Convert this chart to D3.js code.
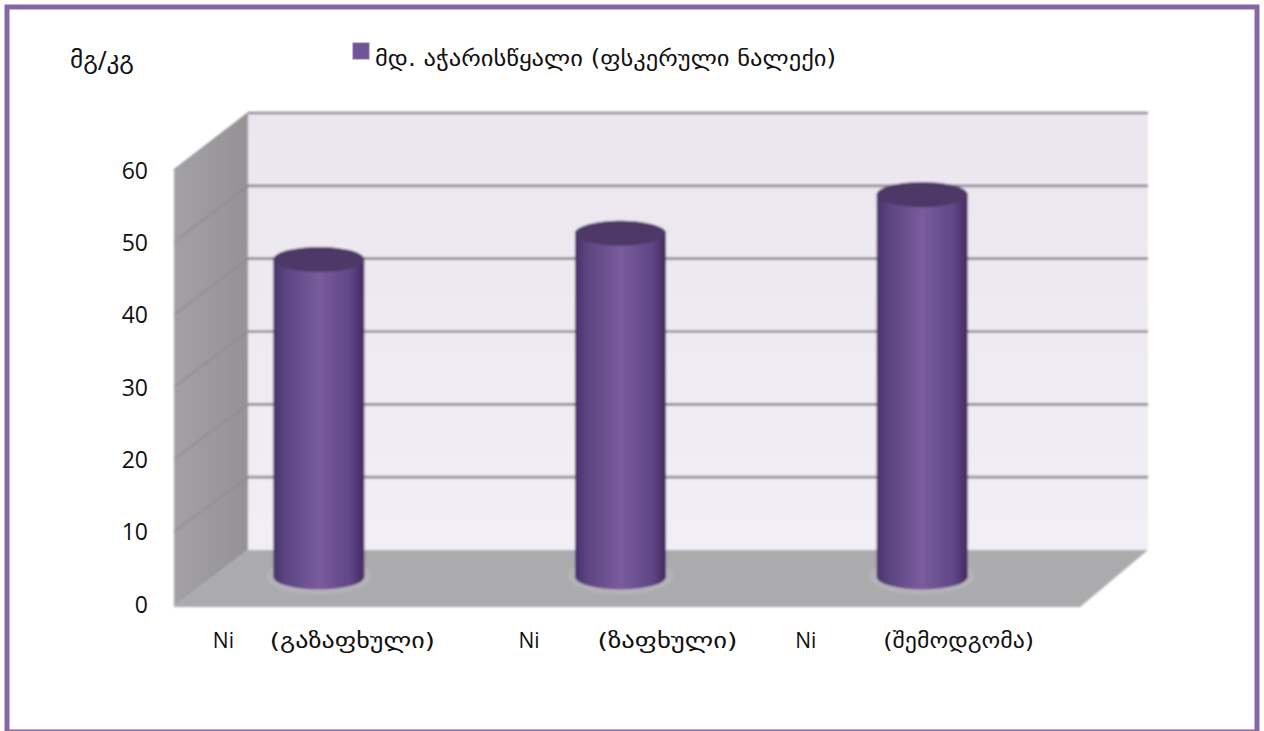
<!DOCTYPE html>
<html><head><meta charset="utf-8">
<script src="https://cdnjs.cloudflare.com/ajax/libs/d3/7.8.5/d3.min.js"></script>
<style>html,body{margin:0;padding:0;background:#fff}svg{display:block}text{fill:#111}</style>
</head><body><div id="c"></div>
<script>
const categories = ["გაზაფხული","ზაფხული","შემოდგომა"];
const element = "Ni";
const values = [43.6, 47.2, 52.5];
const seriesName = "მდ. აჭარისწყალი (ფსკერული ნალექი)";
const unit = "მგ/კგ";
const yTicks = [0,10,20,30,40,50,60];

const W=1264,H=731;
const font="'Open Sans','DejaVu Sans',sans-serif", geo="'DejaVu Sans','Noto Sans',sans-serif";
const svg=d3.select("#c").append("svg").attr("width",W).attr("height",H);
const defs=svg.append("defs");
const g1=defs.append("linearGradient").attr("id","cyl");
[[0,"#46326a"],[.12,"#5a4480"],[.5,"#7a5c9c"],[.85,"#5f4686"],[1,"#42295f"]].forEach(d=>g1.append("stop").attr("offset",d[0]).attr("stop-color",d[1]));
const g2=defs.append("linearGradient").attr("id","wall").attr("x2",0).attr("y2",1);
[[0,"#ebe6ef"],[1,"#f2eef5"]].forEach(d=>g2.append("stop").attr("offset",d[0]).attr("stop-color",d[1]));
const g3=defs.append("linearGradient").attr("id","side");
[[0,"#a3a1a4"],[1,"#949296"]].forEach(d=>g3.append("stop").attr("offset",d[0]).attr("stop-color",d[1]));
defs.append("filter").attr("id","soft").append("feGaussianBlur").attr("stdDeviation",1);

// frame
svg.append("rect").attr("x",7).attr("y",7).attr("width",1250).attr("height",725)
  .attr("fill","#fff").attr("stroke","#8667a6").attr("stroke-width",5);

// scales: front plane, back wall, bar plane
const yFront=d3.scaleLinear().domain([0,60]).range([604,170]);
const yBack=d3.scaleLinear().domain([0,60]).range([550,113]);
const yBar=d3.scaleLinear().domain([0,60]).range([577,140]);
const x=d3.scaleBand().domain(categories).range([168,1073]);
const line=d3.line();

const scene=svg.append("g").attr("filter","url(#soft)");
const xL=174,xB=248,xR=1148,xF=1080,floorY=607;
scene.append("path").attr("d",line([[xL,yFront(60)],[xB,yBack(60)],[xB,yBack(0)],[xL,floorY]])+"Z").attr("fill","url(#side)");
scene.append("rect").attr("x",xB).attr("y",yBack(60)).attr("width",xR-xB).attr("height",yBack(0)-yBack(60)).attr("fill","url(#wall)");
scene.append("path").attr("d",line([[xB,yBack(0)],[xR,yBack(0)],[xF,floorY],[xL,floorY]])+"Z").attr("fill","#ababad");

// gridlines on wall and side
scene.selectAll(".grid").data(yTicks.slice(1)).join("line").attr("x1",xB).attr("x2",xR)
  .attr("y1",d=>yBack(d)).attr("y2",d=>yBack(d)).attr("stroke","#8e8c92").attr("stroke-width",2.6);
scene.selectAll(".gs").data(yTicks.slice(1)).join("line").attr("x1",xL).attr("x2",xB)
  .attr("y1",d=>yFront(d)).attr("y2",d=>yBack(d)).attr("stroke","#8a888c").attr("stroke-width",1.2);

// cylinders
const rx=45.5, ry=12.5;
const bars=scene.selectAll(".bar").data(values).join("g");
bars.append("ellipse").attr("cx",(d,i)=>x(categories[i])+x.bandwidth()/2).attr("cy",yBar(0)-1).attr("rx",rx+7).attr("ry",ry+6).attr("fill","#cfc4d8").attr("opacity",.3);
bars.append("path").attr("d",(d,i)=>{
  const c=x(categories[i])+x.bandwidth()/2, t=yBar(d), b=yBar(0);
  return `M${c-rx},${t}L${c-rx},${b}A${rx},${ry} 0 0 0 ${c+rx},${b}L${c+rx},${t}A${rx},${ry} 0 0 0 ${c-rx},${t}Z`;
}).attr("fill","url(#cyl)");
bars.append("ellipse").attr("cx",(d,i)=>x(categories[i])+x.bandwidth()/2).attr("cy",d=>yBar(d)).attr("rx",rx).attr("ry",ry).attr("fill","#4d3768");

// y axis
const ax=svg.append("g").attr("transform","translate(148,0)").call(d3.axisLeft(yFront).tickValues(yTicks).tickSize(0).tickPadding(0));
ax.select(".domain").remove();
ax.selectAll("text").attr("font-family",font).attr("font-size",23).attr("fill","#111").attr("dy",".36em").attr("x",0);

// x labels
const labelOffsets=[[-106,-49],[-102,-23],[-127,-39]];
const labelWidths=[165,140,151];
const xg=svg.append("g");
categories.forEach((c,i)=>{
  const cx=x(c)+x.bandwidth()/2;
  xg.append("text").attr("x",cx+labelOffsets[i][0]).attr("y",648).attr("font-family",font).attr("font-size",21).text(element);
  xg.append("text").attr("x",cx+labelOffsets[i][1]).attr("y",648).attr("font-family",geo).attr("font-size",22)
    .attr("textLength",labelWidths[i]).attr("lengthAdjust","spacingAndGlyphs").text("("+c+")");
});

// unit and legend
svg.append("text").attr("x",70).attr("y",68).attr("font-family",geo).attr("font-size",23)
  .attr("textLength",64).attr("lengthAdjust","spacingAndGlyphs").text(unit);
svg.append("rect").attr("x",353).attr("y",43).attr("width",16).attr("height",16).attr("fill","#705498").attr("stroke","#8a78a6");
svg.append("text").attr("x",375).attr("y",66).attr("font-family",geo).attr("font-size",22.5)
  .attr("textLength",461).attr("lengthAdjust","spacingAndGlyphs").text(seriesName);
</script></body></html>
